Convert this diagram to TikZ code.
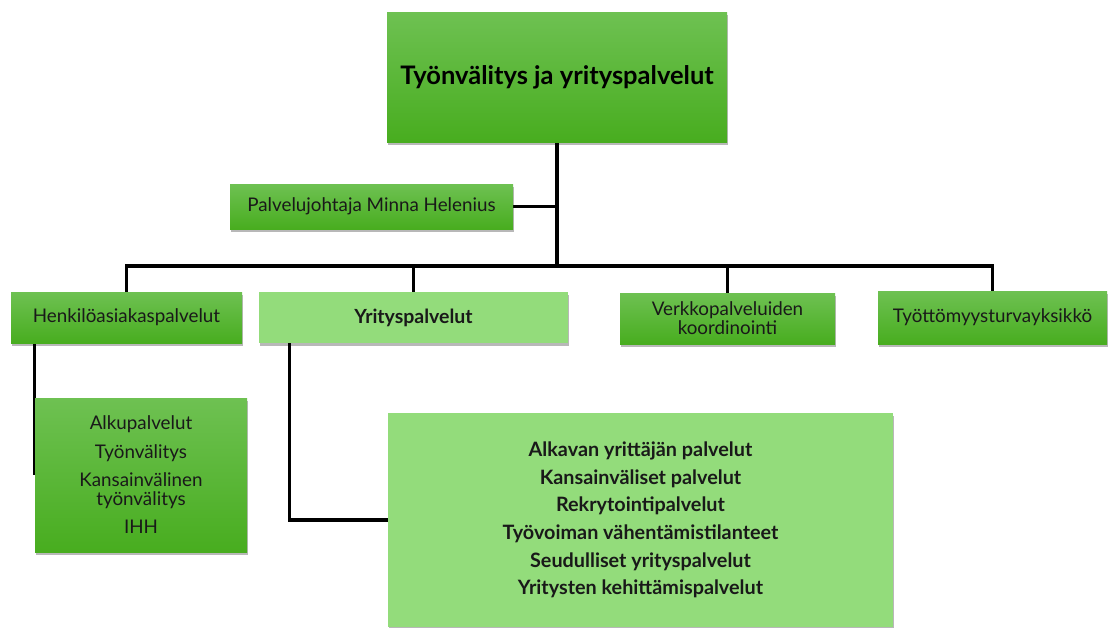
\documentclass[tikz,border=0pt]{standalone}
\usepackage{fontspec}
\setmainfont{Lato}
\usetikzlibrary{shadows,backgrounds}
\definecolor{gtop}{RGB}{110,193,82}
\definecolor{gbot}{RGB}{72,173,31}
\definecolor{lgreen}{RGB}{147,220,123}
\definecolor{txt}{RGB}{25,25,25}
\tikzset{
  boxshadow/.style={general shadow={shadow xshift=1pt,shadow yshift=-2.5pt,fill=black,opacity=0.28}},
  darkbox/.style={rectangle,inner sep=0pt,top color=gtop,bottom color=gbot,boxshadow,text=txt,font=\fontsize{18.8}{20}\selectfont,align=center},
  lightbox/.style={rectangle,inner sep=0pt,fill=lgreen,boxshadow,text=txt,font=\bfseries\fontsize{18}{20}\selectfont,align=center},
  conn/.style={draw=black,line width=3.2pt}
}
\begin{document}
\begin{tikzpicture}[x=1pt,y=-1pt]
\useasboundingbox (0,0) rectangle (1108,627);
% boxes
\node[darkbox,minimum width=340pt,minimum height=130pt,text=black,font=\bfseries\fontsize{25.5}{28}\selectfont] (top) at (557,77) {Työnvälitys ja yrityspalvelut};
\node[darkbox,minimum width=283pt,minimum height=45pt] (palv) at (371.5,206.5) {Palvelujohtaja Minna Helenius};
\node[darkbox,minimum width=231pt,minimum height=51pt] (henk) at (126.5,317.5) {Henkilöasiakaspalvelut};
\node[lightbox,minimum width=309pt,minimum height=51pt,font=\bfseries\fontsize{19.5}{20}\selectfont] (yrit) at (413.5,317.5) {Yrityspalvelut};
\node[darkbox,minimum width=215pt,minimum height=51pt,font=\fontsize{18.8}{19}\selectfont] (verk) at (727.5,318.5) {Verkkopalveluiden\\koordinointi};
\node[darkbox,minimum width=229pt,minimum height=53pt] (tyot) at (992.5,317.5) {Työttömyysturvayksikkö};
\node[darkbox,minimum width=212pt,minimum height=154pt,font=\fontsize{18.8}{18.5}\selectfont] (alku) at (141,475) {Alkupalvelut\\[10pt]Työnvälitys\\[10pt]Kansainvälinen\\työnvälitys\\[10pt]IHH};
\node[lightbox,minimum width=505pt,minimum height=214pt,font=\bfseries\fontsize{19.8}{27.7}\selectfont] (big) at (640.5,520) {Alkavan yrittäjän palvelut\\Kansainväliset palvelut\\Rekrytointipalvelut\\Työvoiman vähentämistilanteet\\Seudulliset yrityspalvelut\\Yritysten kehittämispalvelut};
% connectors
\begin{pgfonlayer}{background}
\coordinate (busy) at (0,266);
\draw[conn] (top.south) -- (top.south |- busy);
\draw[conn] (palv.east) -- (palv.east -| top.south);
\draw[conn] (henk.north) |- (tyot.north |- busy) -- (tyot.north);
\draw[conn] (yrit.north) -- (yrit.north |- busy);
\draw[conn] (verk.north) -- (verk.north |- busy);
\draw[conn] (henk.south -| alku.west) -- (alku.west);
\draw[conn] (yrit.south west) ++(31,0) |- (big.west);
\end{pgfonlayer}
\end{tikzpicture}
\end{document}
